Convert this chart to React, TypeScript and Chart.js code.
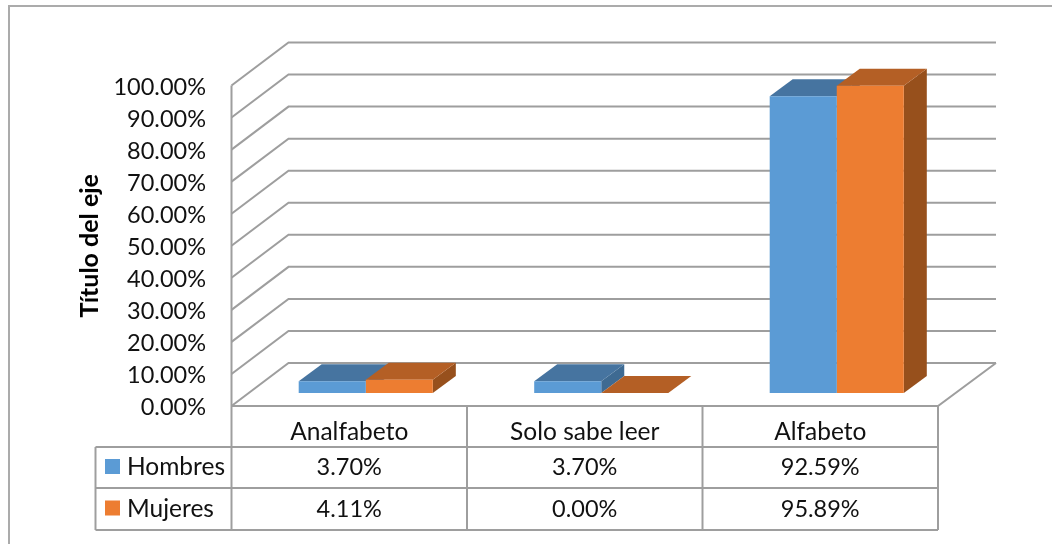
import React, { useEffect, useRef } from "react";
import { Chart, registerables } from "chart.js";

Chart.register(...registerables);

const categories = ["Analfabeto", "Solo sabe leer", "Alfabeto"];
const hombres = [3.7, 3.7, 92.59];
const mujeres = [4.11, 0, 95.89];
const hombresLabels = ["3.70%", "3.70%", "92.59%"];
const mujeresLabels = ["4.11%", "0.00%", "95.89%"];
const seriesNames = ["Hombres", "Mujeres"];

const FONT = "Lato, 'Open Sans', sans-serif";
const FONT_SIZE = 24.5;
const NUMBER_SIZE = 23.5;
const INK = "#111";
const GRID = "#9E9E9E";
const FRONT = ["#5B9BD5", "#ED7D31"];
const TOP = ["#4674A0", "#B45F25"];
const SIDE = ["#3E6A92", "#97501C"];

// Wall and floor receding depth, in pixels.
const WALL_DX = 58;
const WALL_DY = 43;
// Depth of each bar, and how far it sits inside the floor.
const BAR_DX = 23;
const BAR_DY = 17;
const INSET_X = 16.5;
const INSET_Y = 13;

function stroke(ctx: CanvasRenderingContext2D, pts: number[][], color = GRID, width = 2) {
  ctx.beginPath();
  pts.forEach(([x, y], i) => (i ? ctx.lineTo(x, y) : ctx.moveTo(x, y)));
  ctx.strokeStyle = color;
  ctx.lineWidth = width;
  ctx.stroke();
}

function fillPoly(ctx: CanvasRenderingContext2D, pts: number[][], color: string) {
  ctx.beginPath();
  pts.forEach(([x, y], i) => (i ? ctx.lineTo(x, y) : ctx.moveTo(x, y)));
  ctx.closePath();
  ctx.fillStyle = color;
  ctx.fill();
}

// Wall gridlines, floor outline and the oblique faces of the bars.
const boxPlugin = {
  id: "box3d",
  beforeDatasetsDraw(chart: any) {
    const { ctx, chartArea, scales } = chart;
    const { left, right, bottom, top } = chartArea;
    ctx.save();
    ctx.lineJoin = "miter";
    scales.y.ticks.forEach((t: any) => {
      const y = scales.y.getPixelForValue(t.value);
      stroke(ctx, [
        [left, y],
        [left + WALL_DX - 1, y - WALL_DY],
        [right + WALL_DX, y - WALL_DY],
      ]);
    });
    stroke(ctx, [[left, top], [left, bottom]]);
    stroke(ctx, [
      [left, bottom],
      [right, bottom],
      [right + WALL_DX, bottom - WALL_DY],
    ]);

    ctx.translate(INSET_X, -INSET_Y);
    chart.data.datasets.forEach((_: any, di: number) => {
      chart.getDatasetMeta(di).data.forEach((bar: any) => {
        const { x, y, base, width } = bar.getProps(["x", "y", "base", "width"]);
        const l = x - width / 2;
        const r = x + width / 2;
        fillPoly(ctx, [[r, y], [r + BAR_DX, y - BAR_DY], [r + BAR_DX, base - BAR_DY], [r, base]], SIDE[di]);
        fillPoly(ctx, [[l, y], [l + BAR_DX, y - BAR_DY], [r + BAR_DX, y - BAR_DY], [r, y]], TOP[di]);
      });
    });
  },
  afterDatasetsDraw(chart: any) {
    chart.ctx.restore();
  },
};

// Value axis labels, placed from the scale's own ticks, and the data table
// under the plot with the legend keys in its first column.
const tablePlugin = {
  id: "dataTable",
  afterDraw(chart: any) {
    const { ctx, chartArea, scales } = chart;
    const { left, right, bottom } = chartArea;
    const tableLeft = 95.5;
    const rows = [447, 488, 530];
    const colWidth = (right - left) / categories.length;
    const textFont = `${FONT_SIZE}px ${FONT}`;
    const numberFont = `${NUMBER_SIZE}px ${FONT}`;
    ctx.save();
    rows.forEach((y) => stroke(ctx, [[tableLeft, y], [right, y]]));
    stroke(ctx, [[tableLeft, rows[0]], [tableLeft, rows[2]]]);
    for (let i = 0; i <= categories.length; i++) {
      const x = left + colWidth * i;
      stroke(ctx, [[x, bottom], [x, rows[2]]]);
    }
    ctx.textBaseline = "middle";

    ctx.font = numberFont;
    ctx.fillStyle = INK;
    ctx.textAlign = "right";
    scales.y.ticks.forEach((t: any) => {
      ctx.fillText(`${t.value.toFixed(2)}%`, 206, scales.y.getPixelForValue(t.value) + 1.5);
    });

    [hombresLabels, mujeresLabels].forEach((labels, r) => {
      const cy = (rows[r] + rows[r + 1]) / 2;
      ctx.fillStyle = FRONT[r];
      ctx.fillRect(105, cy - 8.5, 15, 15);
      ctx.fillStyle = INK;
      ctx.font = textFont;
      ctx.textAlign = "left";
      ctx.fillText(seriesNames[r], 127, cy);
      ctx.font = numberFont;
      ctx.textAlign = "center";
      labels.forEach((text, c) => {
        ctx.fillText(text, scales.x.getPixelForValue(c), cy);
      });
    });
    ctx.restore();
  },
};

// Outer frame of the chart area; it runs off the right and bottom edges.
const framePlugin = {
  id: "outerFrame",
  beforeDraw(chart: any) {
    const { ctx, width, height } = chart;
    ctx.save();
    ctx.fillStyle = "#fff";
    ctx.fillRect(0, 0, width, height);
    stroke(ctx, [[9, height], [9, 6], [width, 6]], "#ABABAB", 2);
    ctx.restore();
  },
};

export default function App() {
  const canvasRef = useRef<HTMLCanvasElement>(null);

  useEffect(() => {
    const chart = new Chart(canvasRef.current!, {
      type: "bar",
      data: {
        labels: categories,
        datasets: [
          { label: seriesNames[0], data: hombres, backgroundColor: FRONT[0], clip: false },
          { label: seriesNames[1], data: mujeres, backgroundColor: FRONT[1], clip: false },
        ],
      } as any,
      options: {
        responsive: false,
        animation: false,
        layout: { padding: { top: 85.5, bottom: 0, left: 0, right: 114 } },
        datasets: { bar: { categoryPercentage: 134 / 235.33, barPercentage: 1 } },
        plugins: { legend: { display: false }, tooltip: { enabled: false } },
        scales: {
          x: {
            grid: { display: false },
            border: { display: false },
            ticks: { color: INK, font: { family: FONT, size: FONT_SIZE }, padding: 3 },
            afterFit: (s: any) => { s.height = 138; },
          },
          y: {
            min: 0,
            max: 100,
            grid: { display: false },
            border: { display: false },
            title: {
              display: true,
              text: "Título del eje",
              color: "#000",
              font: { family: FONT, size: 25, weight: "bold" },
              padding: { top: 75, bottom: 0 },
            },
            ticks: {
              stepSize: 10,
              display: false,
            },
            afterFit: (s: any) => { s.width = 231.5; },
          },
        },
      } as any,
      plugins: [framePlugin, boxPlugin, tablePlugin],
    });
    return () => chart.destroy();
  }, []);

  return (
    <div style={{ position: "absolute", left: 0, top: 0, width: 1052, height: 544 }}>
      <canvas ref={canvasRef} width={1052} height={544} style={{ display: "block" }} />
    </div>
  );
}
